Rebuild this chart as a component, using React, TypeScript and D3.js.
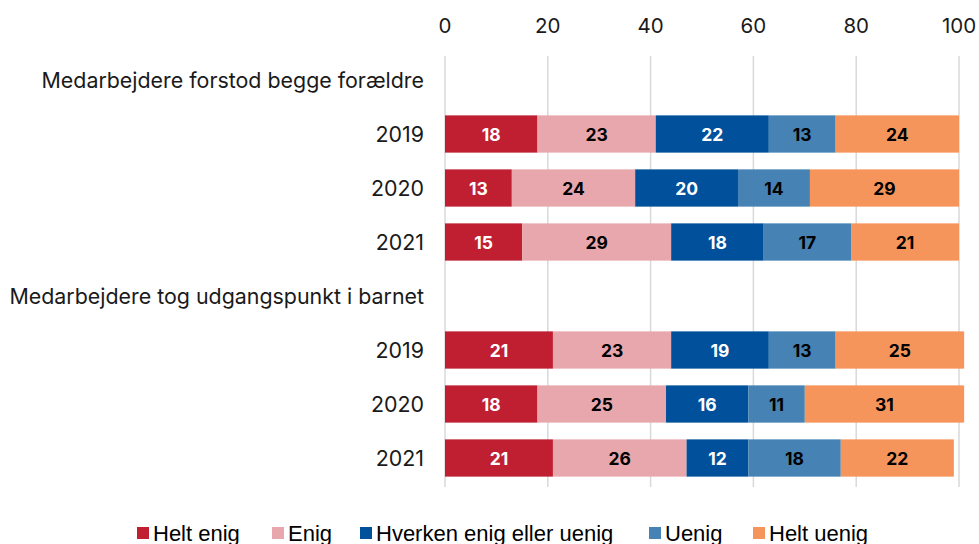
import * as d3 from "d3";

const rows = [
  "Medarbejdere forstod begge forældre",
  "2019",
  "2020",
  "2021",
  "Medarbejdere tog udgangspunkt i barnet",
  "2019",
  "2020",
  "2021",
];

const series = ["Helt enig", "Enig", "Hverken enig eller uenig", "Uenig", "Helt uenig"];
const colors = ["#c01f31", "#e8a7ad", "#00509b", "#4682b4", "#f5955b"];
const textColors = ["#ffffff", "#000000", "#ffffff", "#000000", "#000000"];

// values per data row (rows 1-3 and 5-7)
const heltEnig = [18, 13, 15, 21, 18, 21];
const enig = [23, 24, 29, 23, 25, 26];
const hverken = [22, 20, 18, 19, 16, 12];
const uenig = [13, 14, 17, 13, 11, 18];
const heltUenig = [24, 29, 21, 25, 31, 22];
const dataRows = [1, 2, 3, 5, 6, 7];

const xTicks = [0, 20, 40, 60, 80, 100];

const width = 979;
const height = 544;
const margin = { top: 53, right: 20, bottom: 59, left: 445 };

export default function App() {
  const x = d3.scaleLinear().domain([0, 100]).range([margin.left, 959]);
  const y = d3
    .scaleBand()
    .domain(rows.map((_, i) => String(i)))
    .range([margin.top, height - margin.bottom])
    .paddingInner(0.31)
    .paddingOuter(0.155);

  const table = dataRows.map((r, i) => ({
    row: String(r),
    values: [heltEnig[i], enig[i], hverken[i], uenig[i], heltUenig[i]],
  }));
  const stacked = table.map((d) => {
    let acc = 0;
    return {
      row: d.row,
      segs: d.values.map((v, k) => {
        const s = { x0: acc, x1: acc + v, v, k };
        acc += v;
        return s;
      }),
    };
  });

  const legendX = [137, 272, 360, 649, 753];
  const font = "Inter, 'Noto Sans', sans-serif";

  return (
    <div style={{ position: "fixed", left: 0, top: 0 }}>
      <svg width={width} height={height} style={{ display: "block", background: "#fff" }}>
        {xTicks.map((t) => (
          <g key={t}>
            <line
              x1={x(t)}
              x2={x(t)}
              y1={56}
              y2={487}
              stroke="#d9d9d9"
              strokeWidth={1.5}
            />
            <text
              x={x(t)}
              y={25}
              textAnchor="middle"
              dominantBaseline="central"
              fontFamily={font}
              fontSize={20.5}
              fill="#1a1a1a"
            >
              {t}
            </text>
          </g>
        ))}
        {rows.map((label, i) => (
          <text
            key={i}
            x={424}
            y={(y(String(i)) ?? 0) + y.bandwidth() / 2}
            textAnchor="end"
            dominantBaseline="central"
            fontFamily={font}
            fontSize={21.4}
            fill="#1a1a1a"
          >
            {label}
          </text>
        ))}
        {stacked.map((d) => (
          <g key={d.row} transform={`translate(0,${y(d.row)})`}>
            {d.segs.map((s) => (
              <g key={s.k}>
                <rect
                  x={x(s.x0)}
                  width={x(s.x1) - x(s.x0)}
                  y={0}
                  height={y.bandwidth()}
                  fill={colors[s.k]}
                />
                <text
                  x={(x(s.x0) + x(s.x1)) / 2}
                  y={y.bandwidth() / 2 + 1}
                  textAnchor="middle"
                  dominantBaseline="central"
                  fontFamily={font}
                  fontWeight={700}
                  fontSize={17.5}
                  fill={textColors[s.k]}
                >
                  {s.v}
                </text>
              </g>
            ))}
          </g>
        ))}
        {series.map((name, k) => (
          <g key={name} transform={`translate(${legendX[k]},533)`}>
            <rect x={0} y={-6} width={12} height={12} fill={colors[k]} />
            <text
              x={16}
              y={0}
              dominantBaseline="central"
              fontFamily="'Liberation Sans', Arial, sans-serif"
              fontSize={22}
              fill="#000"
            >
              {name}
            </text>
          </g>
        ))}
      </svg>
    </div>
  );
}
